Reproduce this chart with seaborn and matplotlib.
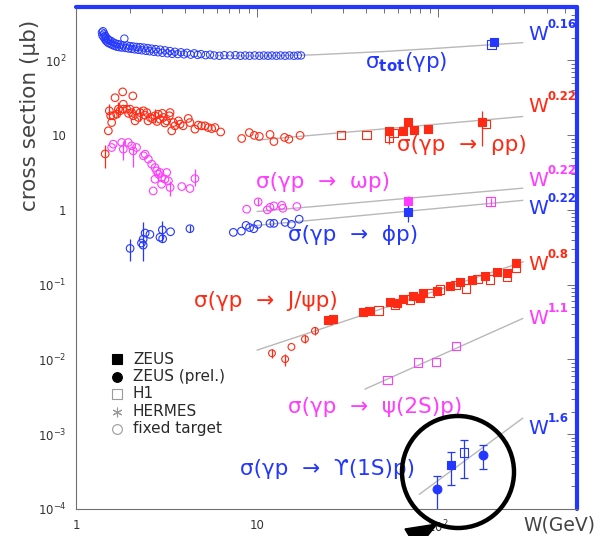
import numpy as np
import pandas as pd
import matplotlib
matplotlib.use("Agg")
import matplotlib.pyplot as plt
import seaborn as sns
from matplotlib.patches import Circle, Polygon
from matplotlib.transforms import IdentityTransform
from matplotlib.ticker import LogLocator, FixedLocator, NullFormatter

# ---------------- data (W in GeV, sigma in microbarn) ----------------
tot_fixed = [(1.39,235),(1.40,215),(1.41,245),(1.42,205),(1.43,228),(1.44,195),(1.45,212),(1.46,185),
             (1.47,202),(1.48,178),(1.50,192),(1.51,170),(1.53,185),(1.55,165),(1.57,180),(1.59,160),
             (1.61,172),(1.63,156),(1.65,168),(1.68,152),(1.70,165),(1.73,150),(1.76,162),(1.79,148),
             (1.82,158),(1.85,195),(1.88,146),(1.91,158),(1.95,144),(1.99,155),(2.03,142),(2.07,153),
             (2.11,140),(2.16,151),(2.21,138),(2.26,150),(2.31,136),(2.37,148),(2.43,134),(2.49,146),
             (2.55,132),(2.62,143),(2.69,130),(2.76,141),(2.84,128),(2.92,139),(3.00,126),(3.10,136),
             (3.20,124),(3.30,133),(3.40,122),(3.52,130),(3.65,121),(3.80,128),(3.95,120),(4.10,126),
             (4.30,119),(4.50,124),(4.70,118),(4.90,121),(5.20,117),(5.50,119),(5.80,116),(6.2,115),
             (6.6,117),(7.1,116),(7.6,117),(8.1,115),(8.6,116),(9.1,115),(9.7,116),(10.3,115),
             (10.9,116),(11.5,115),(12.1,116),(12.8,115),(13.5,116),(14.3,115),(15.1,116),(16.0,115),
             (16.8,116),(17.5,116)]
tot_h1 = [(198, 164)]
tot_zeus = [(204, 176)]
tot_fit = [(6,116),(10,114),(20,118),(50,131),(100,145),(200,162),(294,172)]

rho_fixed = [(1.45,5.6),(1.509,11.4),(1.574,14.7),(1.554,18.1),(1.528,21.1),(1.643,31.6),(1.811,37.8),
             (2.06,33.4),(1.678,19.0),(1.607,18.1),(1.714,22.2),(1.750,21.1),(1.826,22.2),(1.826,25.9),
             (1.905,22.2),(1.988,22.2),(2.03,20.0),(2.07,18.1),(2.12,15.5),(2.21,17.2),(2.26,20.0),
             (2.36,21.1),(2.46,20.0),(2.57,17.2),(2.73,18.1),(2.85,19.0),(2.91,16.3),(3.04,17.2),
             (3.17,15.5),(3.31,20.0),(3.28,18.1),(3.38,11.4),(3.45,14.7),(3.52,13.3),(3.68,15.5),
             (3.76,14.0),(3.91,13.3),(4.17,16.7),(4.26,14.7),(4.54,12.0),(4.74,13.6),(4.94,13.3),
             (5.16,13.3),(5.38,12.6),(5.62,12.2),(5.86,12.6),(6.30,11.0),(1.95,19.5),(2.15,21.0),
             (2.40,18.5),(2.65,16.5),(2.80,15.2),(3.00,19.5),(3.10,14.5),(2.50,15.5),
             (8.23,9.0),(9.07,10.8),(9.66,9.9),(10.3,9.6),(11.8,10.2),(12.4,8.2),(14.2,9.3),
             (15.0,8.8),(17.3,9.9)]
rho_fixed_err = [(1.45,3.6,7.4),(1.528,16.5,26.0),(1.714,17.5,28.0),(2.26,15.5,24.0),(2.73,14.5,22.0)]
rho_h1 = [(29.1,10.0),(40.3,10.0),(53.6,9.3),(56.7,10.6),(184,14.0)]
rho_zeus = [(53.6,11.2),(63.9,11.2),(68.4,15.0),(73.6,11.6),(88.4,12.0),(176,15.0)]
rho_hera_err = [(53.6,7.6,11.0),(176,7.2,21.0)]
rho_fit = [(10,8.55),(294,17.7)]

omega_fixed = [(1.574,6.82),(1.607,7.56),(1.788,7.96),(1.826,6.48),(1.945,7.96),(2.03,7.18),(2.07,6.15),
               (2.16,6.82),(2.36,5.28),(2.41,5.56),(2.51,4.76),(2.62,4.08),(2.73,3.68),(2.79,3.32),
               (2.85,3.0),(2.91,3.16),(2.97,2.70),(3.10,2.57),(3.17,3.16),(3.24,2.44),(3.31,1.99),
               (2.73,2.57),(2.97,2.20),(2.67,1.79),(3.84,2.05),(4.26,1.93),(4.54,2.62),
               (8.77,1.02),(10.15,1.28),(11.4,1.0),(11.8,1.08),(12.4,1.13),(13.7,1.15),(13.9,1.05),
               (16.6,1.11)]
omega_fixed_err = [(1.826,4.6,8.3),(2.07,3.7,6.9),(3.31,1.55,2.4),(4.54,2.1,3.5),(10.15,1.12,1.45)]
omega_zeus = [(68.5,1.32)]
omega_h1 = [(195,1.29)]
omega_hera_err = [(68.5,1.1,1.55),(195,1.12,1.45)]
omega_fit = [(10,0.95),(294,1.95)]

phi_fixed = [(1.99,0.305),(2.35,0.337),(2.35,0.405),(2.41,0.49),(2.56,0.47),(2.30,0.36),(2.91,0.43),
             (3.0,0.54),(3.01,0.41),(3.33,0.51),(4.26,0.56),(7.4,0.50),(8.2,0.52),(8.7,0.62),
             (9.1,0.58),(9.6,0.56),(10.1,0.64),(11.8,0.66),(12.4,0.66),(14.3,0.68),(15.5,0.64),
             (17.1,0.75)]
phi_fixed_err = [(1.99,0.208,0.405),(2.35,0.208,0.68),(3.0,0.37,0.71),(4.26,0.50,0.63)]
phi_zeus = [(68.5,0.95)]
phi_hera_err = [(68.5,0.68,1.32)]
phi_fit = [(10,0.62),(294,1.34)]

jpsi_fixed = [(12.1,0.0121),(14.3,0.0101),(15.5,0.0147),(18.4,0.0187),(20.9,0.0241)]
jpsi_fixed_err = [(12.1,0.0105,0.014),(14.3,0.0082,0.0118),(18.4,0.0165,0.021),(20.9,0.021,0.027)]
jpsi_zeus = [(24.8,0.0335),(26.2,0.0346),(38.7,0.0433),(41.7,0.0442),(54.3,0.0589),(59.1,0.0573),
             (64.3,0.064),(73.0,0.0708),(79.5,0.0673),(83.0,0.0762),(98.4,0.0826),(116,0.0946),
             (132,0.107),(154,0.116),(182,0.131),(211,0.146),(240,0.143),(269,0.194)]
jpsi_h1 = [(47,0.045),(58,0.053),(70,0.063),(90,0.078),(103,0.086),(125,0.098),(143,0.089),
           (165,0.118),(193,0.117),(240,0.128),(269,0.170)]
jpsi_fit = [(10,0.0133),(296,0.202)]

psi2s_h1 = [(52.5,0.00533),(77.5,0.00912),(97.5,0.00915),(125.7,0.0152)]
psi2s_fit = [(39.5,0.00401),(294,0.0353)]

ups_zeus_prel = [(98.4,1.85e-4),(176.5,5.26e-4)]
ups_zeus = [(117.5,3.86e-4)]
ups_h1 = [(139,5.71e-4)]
ups_err = [(98.4,0.8e-4,2.78e-4),(117.5,2.09e-4,5.71e-4),(139,2.56e-4,8.41e-4),(176.5,3.41e-4,7.15e-4)]
ups_fit = [(78.8,1.57e-4),(294,1.64e-3)]

process_labels = [r"$\sigma_{\mathbf{tot}}(\gamma\mathrm{p})$",
                  "σ(γp  →  ρp)", "σ(γp  →  ωp)", "σ(γp  →  ϕp)",
                  "σ(γp  →  J/ψp)", "σ(γp  →  ψ(2S)p)", "σ(γp  →  ϒ(1S)p)"]
power_labels = ["0.16", "0.22", "0.22", "0.22", "0.8", "1.1", "1.6"]
legend_labels = ["ZEUS", "ZEUS (prel.)", "H1", "HERMES", "fixed target"]
xtick_labels = ["1", "10", r"$10^{2}$"]
ytick_values = [1e-4, 1e-3, 1e-2, 1e-1, 1, 10, 100]
ytick_labels = [r"$10^{-4}$", r"$10^{-3}$", r"$10^{-2}$", r"$10^{-1}$", "1", "10", r"$10^{2}$"]

# ---------------- style ----------------
sns.set_style("white")
plt.rcParams["font.family"] = ["DejaVu Sans"]
plt.rcParams["mathtext.fontset"] = "dejavusans"
plt.rcParams["mathtext.default"] = "regular"

BLUE = "#2437ff"
RED = "#ff2a14"
MAG = "#ff3cff"
FITC = "#b8b8b8"
AXC = "#707070"

W_FIG, H_FIG = 601, 536
fig = plt.figure(figsize=(W_FIG / 100, H_FIG / 100), dpi=100)
L, R, T, B = 76, 577, 7, 509
ax = fig.add_axes([L / W_FIG, 1 - B / H_FIG, (R - L) / W_FIG, (B - T) / H_FIG])
ax.set_xscale("log")
ax.set_yscale("log")
ax.set_xlim(1, 586)
ax.set_ylim(1e-4, 516)


def df_of(pairs):
    return pd.DataFrame(pairs, columns=["W", "sigma"])


def pts(pairs, color, marker, s, filled, lw=0.8, z=3):
    d = df_of(pairs)
    fc = color if filled else "none"
    sns.scatterplot(data=d, x="W", y="sigma", ax=ax, marker=marker, s=s,
                    facecolor=fc, edgecolor=color, linewidth=lw, zorder=z, legend=False)


def errs(triples, centers, color, cap=0):
    cdict = dict(centers)
    for w, lo, hi in triples:
        c = cdict.get(w, np.sqrt(lo * hi))
        ax.errorbar([w], [c], yerr=[[c - lo], [hi - c]], fmt="none", ecolor=color,
                    elinewidth=0.9, capsize=cap, capthick=0.9, zorder=2)


def fit(pairs):
    d = df_of(pairs)
    sns.lineplot(data=d, x="W", y="sigma", ax=ax, color=FITC, lw=1.0, zorder=1,
                 estimator=None, sort=True)


# fit lines
for f in (tot_fit, rho_fit, omega_fit, phi_fit, jpsi_fit, psi2s_fit, ups_fit):
    fit(f)

# total
pts(tot_fixed, BLUE, "o", 28, False, lw=0.7)
pts(tot_h1, BLUE, "s", 38, False)
pts(tot_zeus, BLUE, "s", 38, True)

# rho
errs(rho_fixed_err, rho_fixed, RED)
pts(rho_fixed, RED, "o", 30, False, lw=0.8)
errs(rho_hera_err, rho_zeus + rho_h1, RED)
pts(rho_h1, RED, "s", 36, False)
pts(rho_zeus, RED, "s", 38, True)

# omega
errs(omega_fixed_err, omega_fixed, MAG)
pts(omega_fixed, MAG, "o", 30, False)
errs(omega_hera_err, omega_zeus + omega_h1, MAG)
pts(omega_zeus, MAG, "s", 38, True)
pts(omega_h1, MAG, "s", 36, False)

# phi
errs(phi_fixed_err, phi_fixed, BLUE)
pts(phi_fixed, BLUE, "o", 30, False)
errs(phi_hera_err, phi_zeus, BLUE)
pts(phi_zeus, BLUE, "s", 38, True)

# J/psi
errs(jpsi_fixed_err, jpsi_fixed, RED)
pts(jpsi_fixed, RED, "o", 24, False)
pts(jpsi_h1, RED, "s", 36, False)
pts(jpsi_zeus, RED, "s", 38, True)

# psi(2S)
pts(psi2s_h1, MAG, "s", 36, False)

# Upsilon
errs(ups_err, ups_zeus_prel + ups_zeus + ups_h1, BLUE, cap=3)
pts(ups_zeus_prel, BLUE, "o", 40, True)
pts(ups_zeus, BLUE, "s", 40, True)
pts(ups_h1, BLUE, "s", 38, False)

# ---------------- axes styling ----------------
ax.set_xlabel("")
ax.set_ylabel("")
for side in ("left", "bottom"):
    ax.spines[side].set_color(AXC)
    ax.spines[side].set_linewidth(0.8)
for side in ("top", "right"):
    ax.spines[side].set_color(BLUE)
    ax.spines[side].set_linewidth(3.0)
    ax.spines[side].set_capstyle("round")

ax.xaxis.set_major_locator(FixedLocator([1, 10, 100]))
ax.set_xticklabels(xtick_labels)
ax.xaxis.set_minor_locator(LogLocator(base=10, subs=np.arange(2, 10), numticks=20))
ax.xaxis.set_minor_formatter(NullFormatter())
ax.yaxis.set_major_locator(FixedLocator(ytick_values))
ax.set_yticklabels(ytick_labels)
ax.yaxis.set_minor_locator(LogLocator(base=10, subs=np.arange(2, 10), numticks=20))
ax.yaxis.set_minor_formatter(NullFormatter())
ax.tick_params(which="both", direction="in", top=True, right=True, colors=AXC,
               labelcolor="#333333", labelsize=8.5, width=0.7)
ax.tick_params(which="major", length=7, pad=7)
ax.tick_params(which="minor", length=4)


def fxy(x, y):
    return x / W_FIG, 1 - y / H_FIG


# y label and x label
fig.text(*fxy(30, 115), "cross section (μb)", rotation=90, ha="center", va="center",
         fontsize=15.5, color="#444444")
fig.text(*fxy(523, 525), "W(GeV)", ha="left", va="center", fontsize=13.5, color="#444444")

# process labels
label_pos = [(365, 62, BLUE), (397, 145, RED), (256, 182, MAG), (288, 235, BLUE),
             (194, 301, RED), (288, 407, MAG), (240, 469, BLUE)]
for txt, (x, y, c) in zip(process_labels, label_pos):
    fig.text(*fxy(x, y), txt, ha="left", va="center", fontsize=15.5, color=c)

# power labels: "W" plus a small bold exponent
pow_pos = [(528, 34, BLUE), (528, 107, RED), (528, 181, MAG), (528, 209, BLUE),
           (528, 265, RED), (528, 319, MAG), (528, 429, BLUE)]
for p, (x, y, c) in zip(power_labels, pow_pos):
    fig.text(*fxy(x, y), "W", ha="left", va="center", fontsize=14.5, color=c)
    fig.text(*fxy(x + 20, y - 10), p, ha="left", va="center", fontsize=8.5,
             fontweight="bold", color=c)

# legend (manual)
leg_marks = [("s", "black", "black"), ("o", "black", "black"), ("s", "none", "#9a9a9a"),
             ((6, 2, 0), "#9a9a9a", "#9a9a9a"), ("o", "none", "#9a9a9a")]
leg_y = [359, 377, 394, 412, 429]
for lab, (m, fc, ec), y in zip(legend_labels, leg_marks, leg_y):
    fig.add_artist(plt.Line2D([117 / W_FIG], [1 - y / H_FIG], marker=m, markersize=7,
                              markerfacecolor=fc, markeredgecolor=ec, markeredgewidth=0.8,
                              linestyle="none", transform=fig.transFigure))
    fig.text(*fxy(133, y), lab, ha="left", va="center", fontsize=11, color="#2a2a2a")

# highlight circle and arrow head (pixel coordinates, y measured from the top)
circ = Circle((458, H_FIG - 472), 56, transform=IdentityTransform(), fill=False,
              edgecolor="black", linewidth=3.2, zorder=10)
fig.add_artist(circ)
head_px = [(437, 524), (405, 529), (417, 549)]
head = Polygon([(x, H_FIG - y) for x, y in head_px], closed=True, transform=IdentityTransform(),
               facecolor="black", edgecolor="black", zorder=10)
fig.add_artist(head)

fig.savefig("out.png", dpi=100)
